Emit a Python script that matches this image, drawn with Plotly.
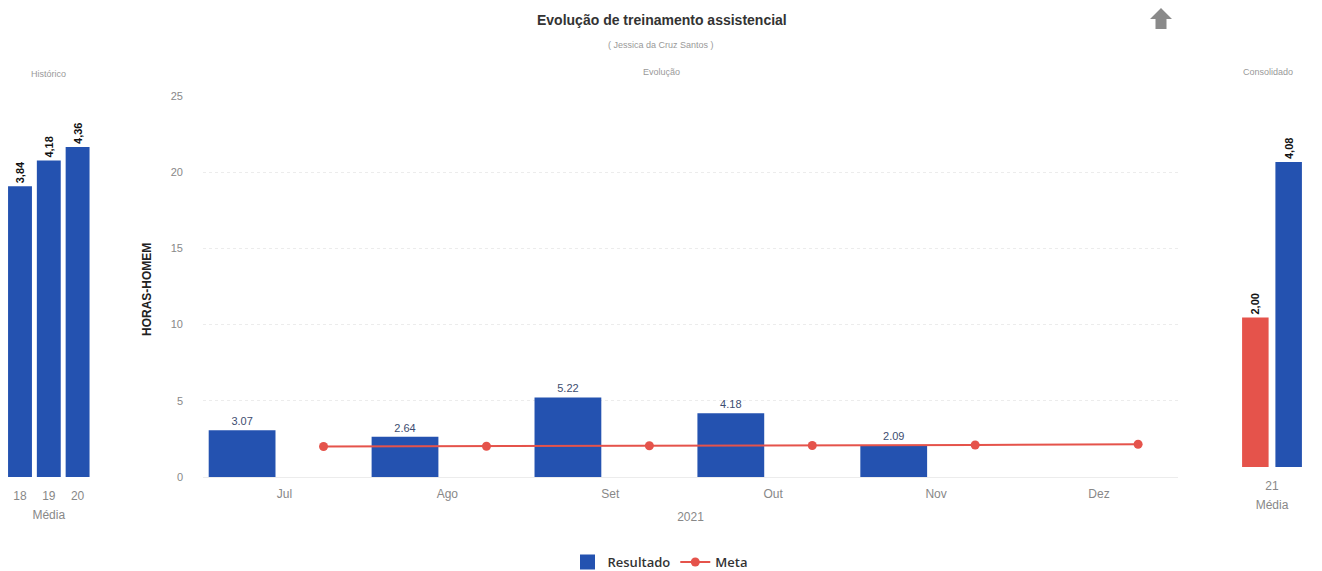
import plotly.graph_objects as go
import numpy as np

# ---------------- data ----------------
months = ["Jul", "Ago", "Set", "Out", "Nov", "Dez"]
resultado = [3.07, 2.64, 5.22, 4.18, 2.09]          # Jul..Nov
meta = [2.00, 2.02, 2.05, 2.07, 2.10, 2.15]          # Jul..Dez

hist_years = ["18", "19", "20"]
hist_values = [3.84, 4.18, 4.36]

cons_year = ["21"]
cons_meta = [2.00]
cons_result = [4.08]

BLUE = "#2452B0"
RED = "#E5534B"
W, H = 1322, 571
FONT = "Liberation Sans, Arial, sans-serif"


def px(x):
    return x / W


def py(y):
    return 1 - y / H


fig = go.Figure()

idx = np.arange(len(months))

# ---------- middle chart ----------
fig.add_trace(go.Bar(
    x=idx[:len(resultado)] - 0.26, y=resultado, width=0.41,
    name="Resultado", showlegend=False, marker=dict(color=BLUE, line=dict(width=0)),
    texttemplate="%{y:.2f}", textposition="outside", cliponaxis=False,
    textfont=dict(size=11, color="#3d4d70", family=FONT),
    constraintext="none", xaxis="x", yaxis="y", hoverinfo="skip",
))
# legend entry for Resultado (larger square swatch)
fig.add_trace(go.Scatter(
    x=[None], y=[None], mode="markers", name="Resultado",
    marker=dict(color=BLUE, symbol="square", size=15), xaxis="x", yaxis="y",
))
fig.add_trace(go.Scatter(
    x=idx + 0.24, y=meta, mode="lines+markers", name="Meta",
    line=dict(color=RED, width=2), marker=dict(color=RED, size=9),
    xaxis="x", yaxis="y", hoverinfo="skip",
))

# ---------- left: Histórico ----------
fig.add_trace(go.Bar(
    x=hist_years, y=hist_values, width=0.83, showlegend=False,
    marker=dict(color=BLUE, line=dict(width=0)),
    text=[f"{v:.2f}".replace(".", ",") for v in hist_values],
    textposition="outside", textangle=-90, cliponaxis=False, constraintext="none",
    textfont=dict(size=11, color="#111", family=FONT, weight="bold"),
    xaxis="x2", yaxis="y2", hoverinfo="skip",
))

# ---------- right: Consolidado ----------
fig.add_trace(go.Bar(
    x=cons_year, y=cons_meta, width=0.39, offset=-0.44, showlegend=False,
    marker=dict(color=RED, line=dict(width=0)),
    text=[f"{v:.2f}".replace(".", ",") for v in cons_meta],
    textposition="outside", textangle=-90, cliponaxis=False, constraintext="none",
    textfont=dict(size=11, color="#111", family=FONT, weight="bold"),
    xaxis="x3", yaxis="y3", hoverinfo="skip",
))
fig.add_trace(go.Bar(
    x=cons_year, y=cons_result, width=0.39, offset=0.05, showlegend=False,
    marker=dict(color=BLUE, line=dict(width=0)),
    text=[f"{v:.2f}".replace(".", ",") for v in cons_result],
    textposition="outside", textangle=-90, cliponaxis=False, constraintext="none",
    textfont=dict(size=11, color="#111", family=FONT, weight="bold"),
    xaxis="x3", yaxis="y3", hoverinfo="skip",
))

axis_font = dict(size=12, color="#888", family=FONT)

fig.update_layout(
    width=W, height=H,
    margin=dict(l=0, r=0, t=0, b=0, autoexpand=False),
    paper_bgcolor="white", plot_bgcolor="white",
    font=dict(family=FONT),
    barmode="overlay",
    xaxis=dict(
        domain=[px(203), px(1178)], range=[-0.5, 5.485],
        tickmode="array", tickvals=list(idx), ticktext=months,
        tickfont=axis_font, ticks="outside", ticklen=6, tickcolor="rgba(0,0,0,0)",
        showgrid=False, zeroline=False, showline=False, automargin=False,
        title=dict(text="2021", font=axis_font, standoff=12),
    ),
    yaxis=dict(
        domain=[py(477), py(96)], range=[0, 25], dtick=5,
        tickfont=dict(size=11, color="#888", family=FONT),
        ticklabelstandoff=19, automargin=False,
        showgrid=True, gridcolor="#ececec", griddash="dot", gridwidth=1,
        zeroline=True, zerolinecolor="#ececec", zerolinewidth=1, showline=False,
    ),
    xaxis2=dict(
        domain=[px(5.6), px(92)], type="category",
        tickfont=axis_font, ticks="outside", ticklen=8, tickcolor="rgba(0,0,0,0)",
        showgrid=False, zeroline=False, showline=False, automargin=False,
        title=dict(text="Média", font=axis_font, standoff=8),
        anchor="y2",
    ),
    yaxis2=dict(
        domain=[py(477), py(100)], range=[0, 4.98], automargin=False,
        showticklabels=False, showgrid=False, zeroline=False, showline=False,
        anchor="x2",
    ),
    xaxis3=dict(
        domain=[px(1238), px(1306)], type="category", range=[-0.5, 0.5],
        tickfont=axis_font, ticks="outside", ticklen=8, tickcolor="rgba(0,0,0,0)",
        showgrid=False, zeroline=False, showline=False, automargin=False,
        title=dict(text="Média", font=axis_font, standoff=8),
        anchor="y3",
    ),
    yaxis3=dict(
        domain=[py(467), py(100)], range=[0, 4.91], automargin=False,
        showticklabels=False, showgrid=False, zeroline=False, showline=False,
        anchor="x3",
    ),
    legend=dict(
        orientation="h", x=px(660), xanchor="center", y=py(562), yanchor="middle",
        font=dict(size=13, color="#333", family="Open Sans, " + FONT, weight=600),
        itemwidth=30, bgcolor="rgba(0,0,0,0)",
    ),
    showlegend=True,
)

ann = [
    dict(text="<b>Evolução de treinamento assistencial</b>", x=px(662), y=py(20),
         font=dict(size=14, color="#333", family=FONT)),
    dict(text="( Jessica da Cruz Santos )", x=px(661), y=py(45),
         font=dict(size=9, color="#999", family=FONT)),
    dict(text="Evolução", x=px(661), y=py(72),
         font=dict(size=9, color="#999", family=FONT)),
    dict(text="Histórico", x=px(48), y=py(74),
         font=dict(size=9, color="#999", family=FONT)),
    dict(text="Consolidado", x=px(1268), y=py(72),
         font=dict(size=9, color="#999", family=FONT)),
    dict(text="<b>HORAS-HOMEM</b>", x=px(147), y=py(290), textangle=-90,
         font=dict(size=12, color="#222", family=FONT)),
]
for a in ann:
    a.update(xref="paper", yref="paper", showarrow=False, xanchor="center", yanchor="middle")
fig.update_layout(annotations=ann)

# up-arrow icon (decoration)
pts = [(1161, 8), (1172, 19), (1166.5, 19), (1166.5, 29), (1155.5, 29), (1155.5, 19), (1150, 19)]
path = "M " + " L ".join(f"{px(a)},{py(b)}" for a, b in pts) + " Z"
fig.add_shape(type="path", path=path, xref="paper", yref="paper",
              fillcolor="#8a8a8a", line=dict(width=0))

fig.write_html("out.html", config={"displayModeBar": False},
               post_script="document.body.style.margin='0';document.body.style.overflow='hidden';")
